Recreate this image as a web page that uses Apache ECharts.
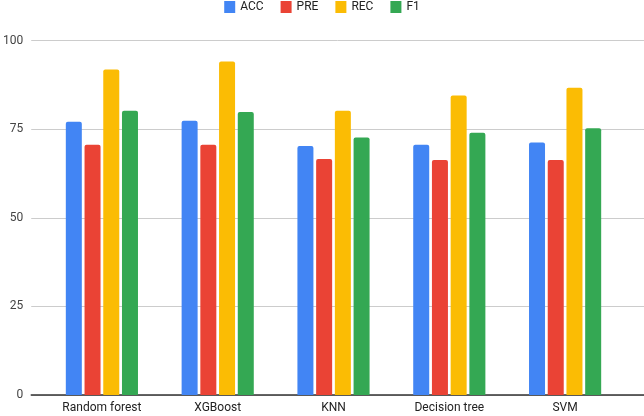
<!DOCTYPE html>
<html>
<head>
<meta charset="utf-8">
<script src="https://cdn.jsdelivr.net/npm/echarts@6/dist/echarts.min.js"></script>
<style>
html,body{margin:0;padding:0;background:#fff;}
#chart{width:644px;height:416px;}
</style>
</head>
<body>
<div id="chart"></div>
<script>
var categories = ['Random forest', 'XGBoost', 'KNN', 'Decision tree', 'SVM'];
var accValues = [77.1, 77.4, 70.3, 70.6, 71.3];
var preValues = [70.6, 70.6, 66.6, 66.3, 66.3];
var recValues = [91.9, 94.1, 80.2, 84.5, 86.7];
var f1Values  = [80.2, 79.9, 72.7, 74.0, 75.3];
var yTicks = [0, 25, 50, 75, 100];

var font = 'Roboto, "Liberation Sans", Arial, sans-serif';
var colors = ['#4285F4', '#EA4335', '#FBBC04', '#34A853'];

function bar(name, data, color) {
  return {
    name: name, type: 'bar', xAxisIndex: 0, yAxisIndex: 0,
    data: data, barWidth: 16, barGap: '17%',
    itemStyle: { color: color, borderRadius: [2, 2, 0, 0] }
  };
}

var chart = echarts.init(document.getElementById('chart'), null, { renderer: 'canvas' });
chart.setOption({
  animation: false,
  color: colors,
  legend: {
    top: 0, left: 'center', padding: [1, 5, 5, 5],
    itemWidth: 11, itemHeight: 12, itemGap: 17,
    icon: 'rect',
    textStyle: { fontFamily: font, fontSize: 12, color: '#222' },
    data: ['ACC', 'PRE', 'REC', 'F1']
  },
  grid: [
    { left: 44, right: 21, top: 40.7, bottom: 21, containLabel: false },
    { left: 25, right: 0, top: 40.7, bottom: 21, containLabel: false }
  ],
  xAxis: [
    { type: 'category', gridIndex: 0, data: categories,
      axisLine: { show: false }, axisTick: { show: false },
      axisLabel: { margin: 7, fontFamily: font, fontSize: 12, color: '#222' } },
    { type: 'category', gridIndex: 1, data: categories,
      axisLine: { show: true, lineStyle: { color: '#333', width: 1.5 } },
      axisTick: { show: false }, axisLabel: { show: false } }
  ],
  yAxis: [
    { type: 'value', gridIndex: 0, min: 0, max: 100, interval: 25,
      axisLabel: { show: false }, splitLine: { show: false },
      axisLine: { show: false }, axisTick: { show: false } },
    { type: 'value', gridIndex: 1, min: yTicks[0], max: yTicks[yTicks.length - 1], interval: 25,
      axisLine: { show: false }, axisTick: { show: false },
      axisLabel: { margin: 8, fontFamily: font, fontSize: 12, color: '#444' },
      splitLine: { lineStyle: { color: '#cccccc', width: 1 } } }
  ],
  series: [
    bar('ACC', accValues, colors[0]),
    bar('PRE', preValues, colors[1]),
    bar('REC', recValues, colors[2]),
    bar('F1', f1Values, colors[3])
  ]
});
</script>
</body>
</html>
